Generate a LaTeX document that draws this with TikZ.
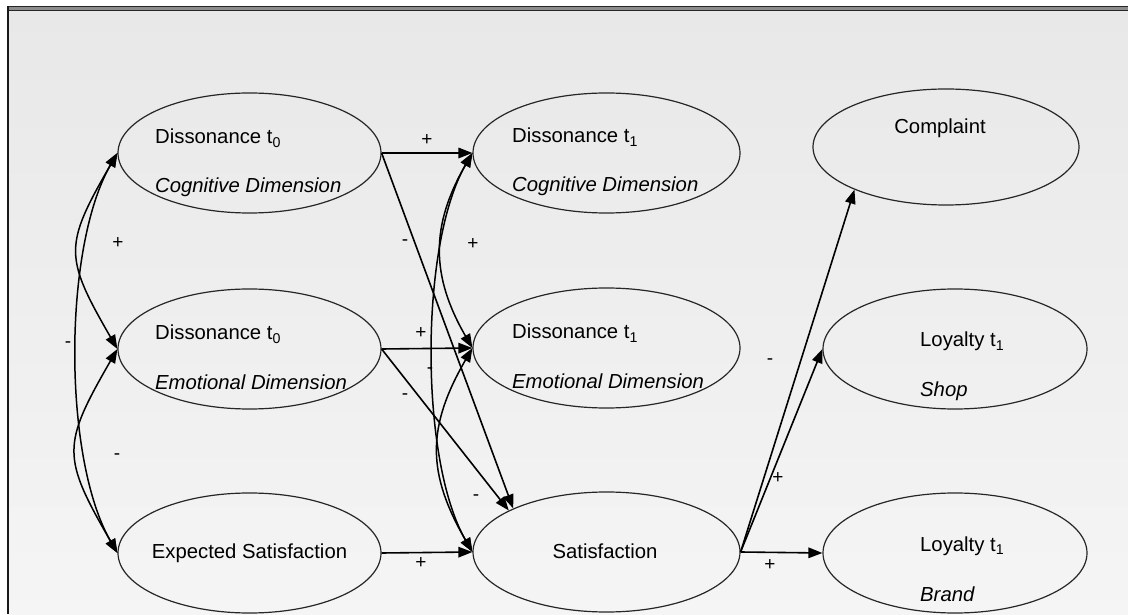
\documentclass[tikz,border=0pt]{standalone}
\usepackage{fontspec}
\setmainfont{Liberation Sans}
\usetikzlibrary{shapes.geometric,arrows.meta}
\begin{document}
\begin{tikzpicture}[x=1pt,y=1pt,
  lat/.style={draw=black!85,line width=1.2pt,ellipse,inner sep=0pt,minimum width=#1,minimum height=120pt},
  lat/.default=264pt,
  txt/.style={font=\fontsize{20.3}{24}\selectfont,inner sep=0pt,anchor=base west},
  itx/.style={font=\fontsize{20.3}{24}\selectfont\itshape,inner sep=0pt,anchor=base west},
  ctx/.style={font=\fontsize{20.3}{24}\selectfont,inner sep=0pt,anchor=base},
  sgn/.style={font=\fontsize{19}{20}\selectfont,inner sep=0pt},
  tip/.tip={Triangle[length=14pt,width=10.5pt]},
  pth/.style={line width=1.6pt,-tip},
  cov/.style={line width=1.5pt,tip-tip}]
\useasboundingbox (0,0) rectangle (1128,614);
\fill[white] (0,0) rectangle (1128,614);
\shade[top color=black!9,bottom color=black!4] (8,0) rectangle (1128,604);
\fill[black!45] (7,603) rectangle (1128,607.5);
\draw[line width=1pt,black!85] (7,607.5) -- (1128,607.5);
\draw[line width=1pt,black!85] (7,603) -- (1128,603);
\draw[line width=2pt,black!90] (8,0) -- (8,607.5);

% latent variables
\node[lat=263pt] (d0c) at (249.5,461) {};
\node[lat=263pt] (d0e) at (249.5,265) {};
\node[lat=263pt] (exp) at (249.5,61) {};
\node[lat=267pt] (d1c) at (606.5,461) {};
\node[lat=267pt] (d1e) at (606.5,266) {};
\node[lat=267pt] (sat) at (606.5,62) {};
\node[lat=266pt,minimum height=116pt] (comp) at (946,467) {};
\node[lat=264pt] (shop) at (955,265) {};
\node[lat=264pt] (brand) at (955,61) {};

% texts
\node[txt] (t1) at (155,470) {Dissonance t\textsubscript{0}};
\node[itx] (t2) at (155,421) {Cognitive Dimension};
\node[txt] (t3) at (155,274) {Dissonance t\textsubscript{0}};
\node[itx] (t4) at (155,224) {Emotional Dimension};
\node[ctx] (t5) at (249.5,56) {Expected Satisfaction};
\node[txt] (t6) at (512,471) {Dissonance t\textsubscript{1}};
\node[itx] (t7) at (512,422) {Cognitive Dimension};
\node[txt] (t8) at (512,275) {Dissonance t\textsubscript{1}};
\node[itx] (t9) at (512,225) {Emotional Dimension};
\node[ctx] (t10) at (605,56) {Satisfaction};
\node[ctx] (t11) at (940,480) {Complaint};
\node[txt] (t12) at (920,267) {Loyalty t\textsubscript{1}};
\node[itx] (t13) at (920,217) {Shop};
\node[txt] (t14) at (920,63) {Loyalty t\textsubscript{1}};
\node[itx] (t15) at (920,13) {Brand};

% covariances
\draw[cov] (d0c.west) to[out=240,in=120,looseness=1.4] (d0e.west);
\draw[cov] (d0e.west) to[out=240,in=120,looseness=1.4] (exp.west);
\draw[cov] (d0c.west) to[out=240,in=120,looseness=0.7] (exp.west);
\draw[cov] (d1c.west) to[out=240,in=120,looseness=1.1] (d1e.west);
\draw[cov] (d1e.west) to[out=240,in=120,looseness=1.15] (sat.west);
\draw[cov] (d1c.west) to[out=240,in=120,looseness=0.68] (sat.west);

% paths
\draw[pth] (d0c.east) -- (d1c.west);
\draw[pth] (d0c.east) -- (sat.155);
\draw[pth] (d0e.east) -- (d1e.west);
\draw[pth] (d0e.east) -- (sat.157);
\draw[pth] (exp.east) -- (sat.west);
\draw[pth] (sat.east) -- (comp.205);
\draw[pth] (sat.east) -- (shop.west);
\draw[pth] (sat.east) -- (brand.west);

% signs
\node[sgn] (s1) at (118,371) {+};
\node[sgn] (s2) at (68,269) {-};
\node[sgn] (s3) at (117,157) {-};
\node[sgn] (s4) at (427,474) {+};
\node[sgn] (s5) at (405,371) {-};
\node[sgn] (s6) at (473,370) {+};
\node[sgn] (s7) at (421,281) {+};
\node[sgn] (s8) at (430,243) {-};
\node[sgn] (s9) at (405,217) {-};
\node[sgn] (s10) at (476,116) {-};
\node[sgn] (s11) at (421,51) {+};
\node[sgn] (s12) at (770,252) {-};
\node[sgn] (s13) at (778,136) {+};
\node[sgn] (s14) at (770,49) {+};
\end{tikzpicture}
\end{document}
